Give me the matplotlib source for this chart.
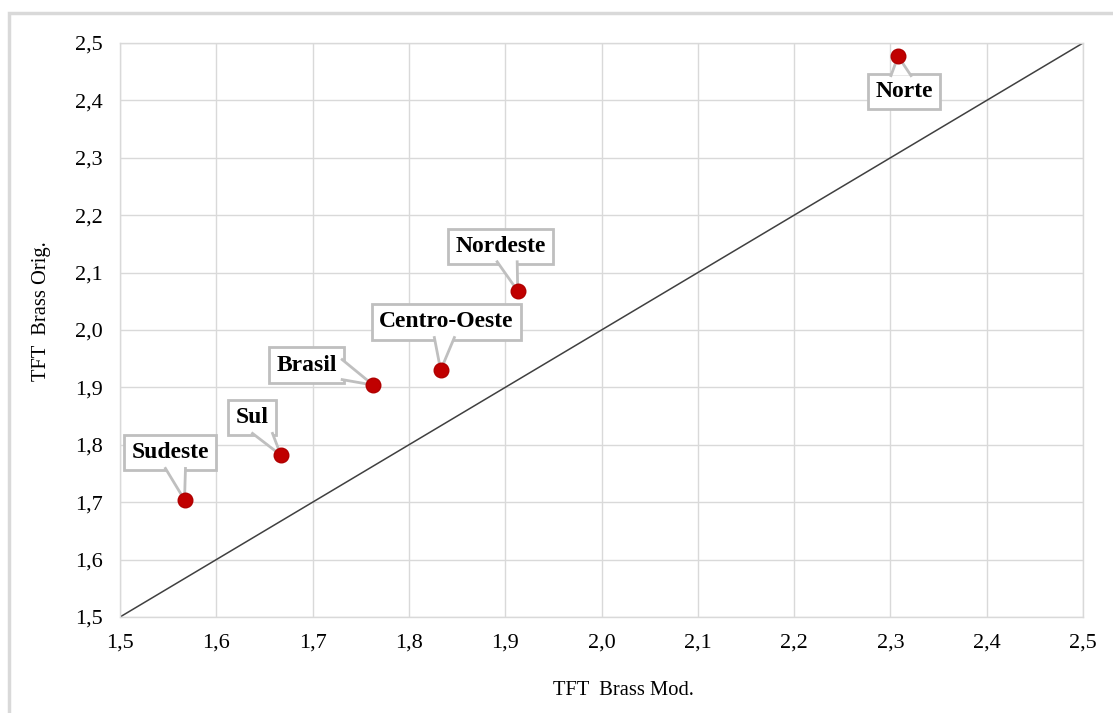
import numpy as np
import matplotlib
matplotlib.use("Agg")
from matplotlib import pyplot as plt
from matplotlib.patches import Rectangle, Polygon
from matplotlib.lines import Line2D
from matplotlib.ticker import FuncFormatter, MultipleLocator

# TFT values per region: modified Brass (x) vs original Brass (y)
regions = ['Sudeste', 'Sul', 'Brasil', 'Centro-Oeste', 'Nordeste', 'Norte']
tft_mod = [1.567, 1.667, 1.763, 1.833, 1.913, 2.308]
tft_orig = [1.704, 1.782, 1.904, 1.930, 2.068, 2.477]

# where each callout box sits, in data units
label_pos = [(1.552, 1.786), (1.637, 1.847), (1.694, 1.939),
             (1.839, 2.014), (1.895, 2.146), (2.314, 2.416)]

plt.rcParams['font.family'] = ['Liberation Serif', 'DejaVu Serif']

BOX_EC = '#BFBFBF'

def comma_fmt(v, pos):
    return f'{v:.1f}'.replace('.', ',')

def callout_pointer(ax, box, tip, base_w=20, inset=2):
    """Wedge from the edge of a label box (display coords) to a point."""
    x0, y0, x1, y1 = box.x0, box.y0, box.x1, box.y1
    cx, cy = (x0 + x1) / 2, (y0 + y1) / 2
    dx, dy = tip[0] - cx, tip[1] - cy
    hw, hh = (x1 - x0) / 2, (y1 - y0) / 2
    if abs(dx) * hh > abs(dy) * hw:
        # leaves through a vertical edge
        ex = x1 if dx > 0 else x0
        ey = cy + dy * hw / abs(dx)
        lo = min(max(ey - base_w / 2, y0 + 3), y1 - 3 - base_w)
        ins = -inset if dx > 0 else inset
        a, b = (ex + ins, lo), (ex + ins, lo + base_w)
    else:
        ey = y1 if dy > 0 else y0
        ex = cx + dx * hh / abs(dy)
        lo = min(max(ex - base_w / 2, x0 + 3), x1 - 3 - base_w)
        ins = -inset if dy > 0 else inset
        a, b = (lo, ey + ins), (lo + base_w, ey + ins)
    inv = ax.transData.inverted()
    pa, pb, pt = inv.transform([a, b, tip])
    ax.add_patch(Polygon([pa, pt, pb], closed=True, fc='white', ec='none',
                         zorder=6, clip_on=False))
    for p in (pa, pb):
        ax.add_line(Line2D([p[0], pt[0]], [p[1], pt[1]], color=BOX_EC,
                           linewidth=2, zorder=6, clip_on=False))

def main():
    fig = plt.figure(figsize=(11.13, 7.13), dpi=100)
    fig.patches.append(Rectangle((9 / 1113, -0.1), 1.2, 1.1 - 13 / 713,
                                 transform=fig.transFigure, fill=False,
                                 edgecolor='#D9D9D9', linewidth=2.5))
    ax = fig.add_axes([120 / 1113, 1 - 617 / 713, 963 / 1113, 574 / 713])

    ax.set_xlim(1.5, 2.5)
    ax.set_ylim(1.5, 2.5)
    ax.xaxis.set_major_locator(MultipleLocator(0.1))
    ax.yaxis.set_major_locator(MultipleLocator(0.1))
    ax.xaxis.set_major_formatter(FuncFormatter(comma_fmt))
    ax.yaxis.set_major_formatter(FuncFormatter(comma_fmt))
    ax.grid(True, color='#D9D9D9', linewidth=1.0)
    ax.set_axisbelow(True)
    for sp in ax.spines.values():
        sp.set_color('#D9D9D9')
        sp.set_linewidth(1.0)
    ax.tick_params(length=0, labelsize=16, colors='black')
    ax.tick_params(axis='x', pad=12)
    ax.tick_params(axis='y', pad=12.5)

    # 1:1 reference line
    ax.plot([1.5, 2.5], [1.5, 2.5], color='#404040', linewidth=1.1, zorder=2)

    ax.plot(tft_mod, tft_orig, 'o', markersize=10.5, color='#C00000',
            markeredgecolor='#B00000', zorder=7, clip_on=False)

    labels = []
    for name, (tx, ty) in zip(regions, label_pos):
        t = ax.text(tx, ty, name, ha='center', va='center', fontsize=17,
                    fontweight='bold', zorder=5,
                    bbox=dict(boxstyle='square,pad=0.3', fc='white',
                              ec=BOX_EC, lw=2))
        labels.append(t)

    fig.canvas.draw()
    renderer = fig.canvas.get_renderer()
    for t, x, y in zip(labels, tft_mod, tft_orig):
        box = t.get_bbox_patch().get_window_extent(renderer)
        tip = ax.transData.transform((x, y))
        callout_pointer(ax, box, tip)

    ax.set_xlabel('TFT  Brass Mod.', fontsize=14.8)
    ax.xaxis.set_label_coords((623 - 120) / 963, -64 / 574)
    ax.set_ylabel('TFT  Brass Orig.', fontsize=14.8)
    ax.yaxis.set_label_coords(-69 / 963, (617 - 311) / 574)

    fig.savefig('out.png', dpi=100)

if __name__ == "__main__":
    main()
